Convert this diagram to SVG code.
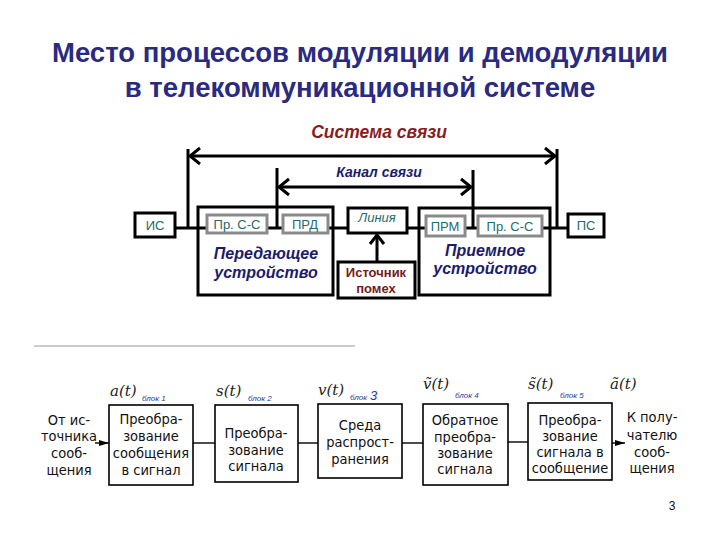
<svg xmlns="http://www.w3.org/2000/svg" width="720" height="540" viewBox="0 0 720 540">
<defs>
<marker id="chev" markerUnits="userSpaceOnUse" markerWidth="14" markerHeight="20" viewBox="-12 -10 14 20" refX="0" refY="0" orient="auto-start-reverse">
<path d="M-10,-8 L0,0 L-10,8" fill="none" stroke="#000" stroke-width="3"/>
</marker>
<marker id="up" markerUnits="userSpaceOnUse" markerWidth="14" markerHeight="20" viewBox="-12 -10 14 20" refX="0" refY="0" orient="auto">
<path d="M-9,-7 L0,0 L-9,7" fill="none" stroke="#000" stroke-width="3"/>
</marker>
<marker id="tri" markerUnits="userSpaceOnUse" markerWidth="10" markerHeight="8" viewBox="0 -4 10 8" refX="10" refY="0" orient="auto">
<path d="M0,-3 L10,0 L0,3 z" fill="#000"/>
</marker>
<style>
.title{font-family:"Liberation Sans",Arial,sans-serif;font-weight:bold;font-size:27.5px;fill:#2a2a80;text-anchor:middle}
.big{fill:#fff;stroke:#000;stroke-width:3}
.inner{fill:#fff;stroke:#8a8a8a;stroke-width:3}
.tl{font-family:"Liberation Sans",Arial,sans-serif;font-size:13px;fill:#1f6b6b;text-anchor:middle}
.dev{font-family:"Liberation Sans",Arial,sans-serif;font-size:16px;font-weight:bold;font-style:italic;fill:#1c1c6a;text-anchor:middle}
.red{font-family:"Liberation Sans",Arial,sans-serif;font-size:13px;font-weight:bold;fill:#7a1a1a;text-anchor:middle}
.thick{stroke:#000;stroke-width:3;fill:none}
.bx{fill:#fff;stroke:#000;stroke-width:1.6}
.bt{font-family:"DejaVu Sans Condensed","DejaVu Sans",sans-serif;font-size:14.5px;fill:#111;text-anchor:middle}
.thin{stroke:#000;stroke-width:1.4;fill:none}
.sig{font-family:"DejaVu Serif","Liberation Serif",serif;font-style:italic;font-size:15px;fill:#222}
.blk{font-family:"Liberation Sans",Arial,sans-serif;font-style:italic;font-size:8px;fill:#2a3aa0}
</style>
</defs>
<rect width="720" height="540" fill="#fff"/>
<g id="title">
<text class="title" x="360" y="62">Место процессов модуляции и демодуляции</text>
<text class="title" x="360" y="97">в телекоммуникационной системе</text>
</g>
<g id="system-label">
<text x="379" y="138" font-family="Liberation Sans,Arial,sans-serif" font-size="17.5" font-weight="bold" font-style="italic" fill="#8b1c1c" text-anchor="middle">Система связи</text>
</g>
<g id="channel-label">
<text x="379" y="177" font-family="Liberation Sans,Arial,sans-serif" font-size="14" font-weight="bold" font-style="italic" fill="#1c1c6a" text-anchor="middle">Канал связи</text>
</g>
<g id="tx-device">
<rect class="big" x="198" y="207" width="135" height="88"/>
<text class="dev" x="266" y="259">Передающее</text>
<text class="dev" x="266" y="278">устройство</text>
</g>
<g id="rx-device">
<rect class="big" x="419" y="208" width="131" height="87"/>
<text class="dev" x="485" y="256">Приемное</text>
<text class="dev" x="485" y="274">устройство</text>
</g>
<g id="connectors">
<line class="thick" x1="175" y1="228" x2="568" y2="228"/>
<line class="thick" x1="188" y1="149" x2="188" y2="228"/>
<line class="thick" x1="557" y1="149" x2="557" y2="228"/>
<line class="thick" x1="190" y1="156" x2="555" y2="156" marker-start="url(#chev)" marker-end="url(#chev)"/>
<line class="thick" x1="277" y1="168" x2="277" y2="228"/>
<line class="thick" x1="473" y1="170" x2="473" y2="228"/>
<line class="thick" x1="279" y1="187" x2="471" y2="187" marker-start="url(#chev)" marker-end="url(#chev)"/>
<line class="thick" x1="377" y1="262" x2="377" y2="235" marker-end="url(#up)"/>
<line class="thin" x1="95" y1="443" x2="109" y2="443" marker-end="url(#tri)"/>
<line class="thin" x1="193" y1="443" x2="215" y2="443"/>
<line class="thin" x1="298" y1="443" x2="318" y2="443"/>
<line class="thin" x1="402" y1="443" x2="423" y2="443"/>
<line class="thin" x1="508" y1="442" x2="528" y2="442"/>
<line class="thin" x1="612" y1="443" x2="625" y2="443" marker-end="url(#tri)"/>
</g>
<g id="is">
<rect class="big" x="135" y="213" width="40" height="24"/>
<text class="tl" x="155" y="230">ИС</text>
</g>
<g id="pr-cc-tx">
<rect class="inner" x="207" y="215" width="60" height="18"/>
<text class="tl" x="237" y="229">Пр. С-С</text>
</g>
<g id="prd">
<rect class="inner" x="283" y="215" width="45" height="18"/>
<text class="tl" x="305" y="229">ПРД</text>
</g>
<g id="line-node">
<rect class="big" x="348" y="208" width="59" height="25"/>
<text class="tl" x="377" y="222" font-style="italic">Линия</text>
</g>
<g id="noise">
<rect class="big" x="338" y="262" width="77" height="36"/>
<text class="red" x="376" y="277">Источник</text>
<text class="red" x="376" y="293">помех</text>
</g>
<g id="prm">
<rect class="inner" x="426" y="216" width="39" height="20"/>
<text class="tl" x="445" y="231">ПРМ</text>
</g>
<g id="pr-cc-rx">
<rect class="inner" x="478" y="216" width="64" height="20"/>
<text class="tl" x="510" y="231">Пр. С-С</text>
</g>
<g id="ps">
<rect class="big" x="568" y="214" width="36" height="23"/>
<text class="tl" x="586" y="230">ПС</text>
</g>
<line x1="34" y1="346" x2="355" y2="346" stroke="#bbb" stroke-width="1.5"/>
<g id="source-text">
<text class="bt" x="69" y="425">От ис-</text>
<text class="bt" x="69" y="441">точника</text>
<text class="bt" x="69" y="458">сооб-</text>
<text class="bt" x="69" y="475">щения</text>
</g>
<g id="block1">
<rect class="bx" x="109" y="405" width="84" height="80"/>
<text class="bt" x="151" y="424">Преобра-</text>
<text class="bt" x="151" y="441">зование</text>
<text class="bt" x="151" y="458">сообщения</text>
<text class="bt" x="151" y="475">в сигнал</text>
<text class="sig" x="110" y="396">a(t)</text>
<text class="blk" x="142" y="401">блок 1</text>
</g>
<g id="block2">
<rect class="bx" x="215" y="405" width="83" height="77"/>
<text class="bt" x="256" y="438">Преобра-</text>
<text class="bt" x="256" y="455">зование</text>
<text class="bt" x="256" y="471">сигнала</text>
<text class="sig" x="216" y="396">s(t)</text>
<text class="blk" x="248" y="401">блок 2</text>
</g>
<g id="block3">
<rect class="bx" x="318" y="404" width="84" height="74"/>
<text class="bt" x="360" y="430">Среда</text>
<text class="bt" x="360" y="447">распрост-</text>
<text class="bt" x="360" y="464">ранения</text>
<text class="sig" x="318" y="395">v(t)</text>
<text class="blk" x="350" y="400">блок</text>
<text x="370" y="400" font-family="Liberation Sans,Arial,sans-serif" font-style="italic" font-size="13" fill="#2a3aa0">3</text>
</g>
<g id="block4">
<rect class="bx" x="423" y="404" width="85" height="81"/>
<text class="bt" x="465" y="425">Обратное</text>
<text class="bt" x="465" y="442">преобра-</text>
<text class="bt" x="465" y="458">зование</text>
<text class="bt" x="465" y="474">сигнала</text>
<text class="sig" x="423" y="389">ṽ(t)</text>
<text class="blk" x="455" y="398">блок 4</text>
</g>
<g id="block5">
<rect class="bx" x="528" y="403" width="84" height="77"/>
<text class="bt" x="570" y="425">Преобра-</text>
<text class="bt" x="570" y="441">зование</text>
<text class="bt" x="570" y="457">сигнала в</text>
<text class="bt" x="570" y="473">сообщение</text>
<text class="sig" x="528" y="389">s̃(t)</text>
<text class="blk" x="560" y="398">блок 5</text>
</g>
<g id="receiver-text">
<text class="sig" x="610" y="389">ã(t)</text>
<text class="bt" x="652" y="422">К полу-</text>
<text class="bt" x="652" y="440">чателю</text>
<text class="bt" x="652" y="457">сооб-</text>
<text class="bt" x="652" y="473">щения</text>
</g>
<text x="672" y="510" font-family="Liberation Sans,Arial,sans-serif" font-size="12" fill="#111" text-anchor="middle">3</text>
</svg>
